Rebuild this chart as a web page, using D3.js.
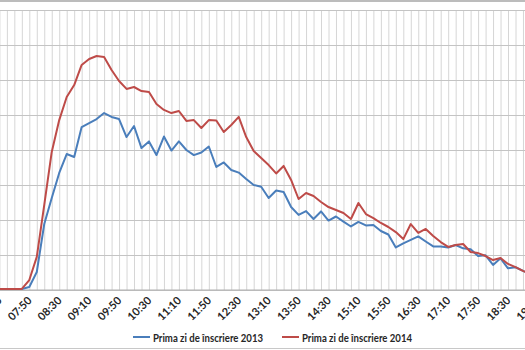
<!DOCTYPE html>
<html>
<head>
<meta charset="utf-8">
<script src="https://cdn.jsdelivr.net/npm/d3@7"></script>
<style>
  html, body { margin: 0; padding: 0; background: #fff; }
  svg { display: block; }
</style>
</head>
<body>
<svg id="chart" width="525" height="350"></svg>
<script>
// Time slots, every 10 minutes from 07:10 to 19:10
const times = [];
for (let m = 7 * 60 + 10; m <= 19 * 60 + 10; m += 10) {
  times.push(String(Math.floor(m / 60)).padStart(2, "0") + ":" + String(m % 60).padStart(2, "0"));
}

// Enrolments per 10-minute slot, first day of enrolment
const values2013 = [
  6, 6, 6, 6, 17, 103, 377, 526, 669, 777, 760, 931, 954, 977, 1011, 989, 977, 874, 937, 811,
  849, 771, 877, 797, 849, 800, 771, 786, 820, 703, 729, 686, 671, 634, 600, 590, 526, 569, 560, 474,
  429, 451, 406, 449, 397, 420, 391, 363, 389, 369, 371, 337, 317, 243, 266, 286, 306, 277, 249, 249,
  243, 257, 238, 233, 194, 198, 143, 181, 124, 130, 109, 91
];
const values2014 = [
  6, 6, 6, 6, 57, 189, 486, 789, 971, 1103, 1171, 1286, 1320, 1337, 1331, 1257, 1194, 1149, 1160, 1137,
  1131, 1063, 1029, 1011, 1023, 966, 971, 926, 971, 969, 903, 943, 989, 874, 794, 754, 714, 666, 709, 629,
  520, 554, 537, 503, 474, 457, 440, 406, 497, 434, 411, 383, 360, 331, 291, 377, 326, 349, 309, 274,
  246, 257, 263, 217, 211, 194, 171, 183, 149, 131, 109, 91
];

const seriesNames = ["Prima zi de înscriere 2013", "Prima zi de înscriere 2014"];
const seriesColors = ["#4a7ebb", "#be4b48"];
const yTicks = [0, 200, 400, 600, 800, 1000, 1200, 1400, 1600];

const svg = d3.select("#chart");
const W = 525, H = 350;

svg.append("rect").attr("width", W).attr("height", H).attr("fill", "#fff");

// Plot area (wide chart; left axis lies just outside the frame)
const step = 7.48;
const plotLeft = 29.3 - 4 * step;
const plotRight = plotLeft + (times.length - 1) * step;
const plotTop = 10, plotBottom = 290;

const x = d3.scalePoint().domain(times).range([plotLeft, plotRight]);
const y = d3.scaleLinear().domain([0, 1600]).range([plotBottom, plotTop]);

// Vertical gridlines, one per time slot
svg.append("g")
  .attr("transform", `translate(0,${plotBottom})`)
  .call(d3.axisBottom(x).tickSize(-(plotBottom - plotTop)).tickFormat(""))
  .call(g => g.select(".domain").remove())
  .call(g => g.selectAll(".tick line").attr("stroke", "#d6d6d6").attr("stroke-width", 1));

// Horizontal gridlines
svg.append("g")
  .attr("transform", `translate(${plotLeft},0)`)
  .call(d3.axisLeft(y).tickValues(yTicks).tickSize(-(plotRight - plotLeft)).tickFormat(""))
  .call(g => g.select(".domain").remove())
  .call(g => g.selectAll(".tick line").attr("stroke", "#c4c4c4").attr("stroke-width", 1));

// Category axis baseline
svg.append("line")
  .attr("x1", plotLeft).attr("x2", plotRight)
  .attr("y1", y(0)).attr("y2", y(0))
  .attr("stroke", "#b0b0b0").attr("stroke-width", 1);

// Rotated time labels every 40 minutes
const labelTimes = times.filter((t, i) => i % 4 === 0);
svg.append("g")
  .selectAll("text")
  .data(labelTimes)
  .join("text")
  .attr("transform", d => `translate(${x(d)},${plotBottom + 8}) rotate(-45)`)
  .attr("text-anchor", "end")
  .attr("dominant-baseline", "central")
  .attr("font-family", "Lato, 'Open Sans', sans-serif")
  .attr("font-weight", "bold")
  .attr("font-size", 11)
  .attr("fill", "#262626")
  .text(d => d);

// Series lines
const line = d3.line()
  .x((d, i) => x(times[i]))
  .y(d => y(d));

[values2013, values2014].forEach((vals, s) => {
  svg.append("path")
    .datum(vals)
    .attr("fill", "none")
    .attr("stroke", seriesColors[s])
    .attr("stroke-width", 2)
    .attr("stroke-linejoin", "round")
    .attr("d", line);
});

// Legend
const legendItems = [{ x: 133 }, { x: 282 }];
const legend = svg.append("g");
legendItems.forEach((it, s) => {
  legend.append("line")
    .attr("x1", it.x).attr("x2", it.x + 17)
    .attr("y1", 337).attr("y2", 337)
    .attr("stroke", seriesColors[s]).attr("stroke-width", 2);
  legend.append("text")
    .attr("x", it.x + 20).attr("y", 337)
    .attr("dominant-baseline", "central")
    .attr("font-family", "Lato, 'Open Sans', sans-serif")
    .attr("font-weight", "bold")
    .attr("font-size", 11)
    .attr("textLength", 110)
    .attr("lengthAdjust", "spacingAndGlyphs")
    .attr("fill", "#262626")
    .text(seriesNames[s]);
});

// Chart border (top and bottom edges visible)
svg.append("line").attr("x1", 0).attr("x2", W).attr("y1", 1).attr("y2", 1)
  .attr("stroke", "#a6a6a6").attr("stroke-width", 1.5);
svg.append("line").attr("x1", 0).attr("x2", W).attr("y1", 348.5).attr("y2", 348.5)
  .attr("stroke", "#c8c8c8").attr("stroke-width", 1);
</script>
</body>
</html>
